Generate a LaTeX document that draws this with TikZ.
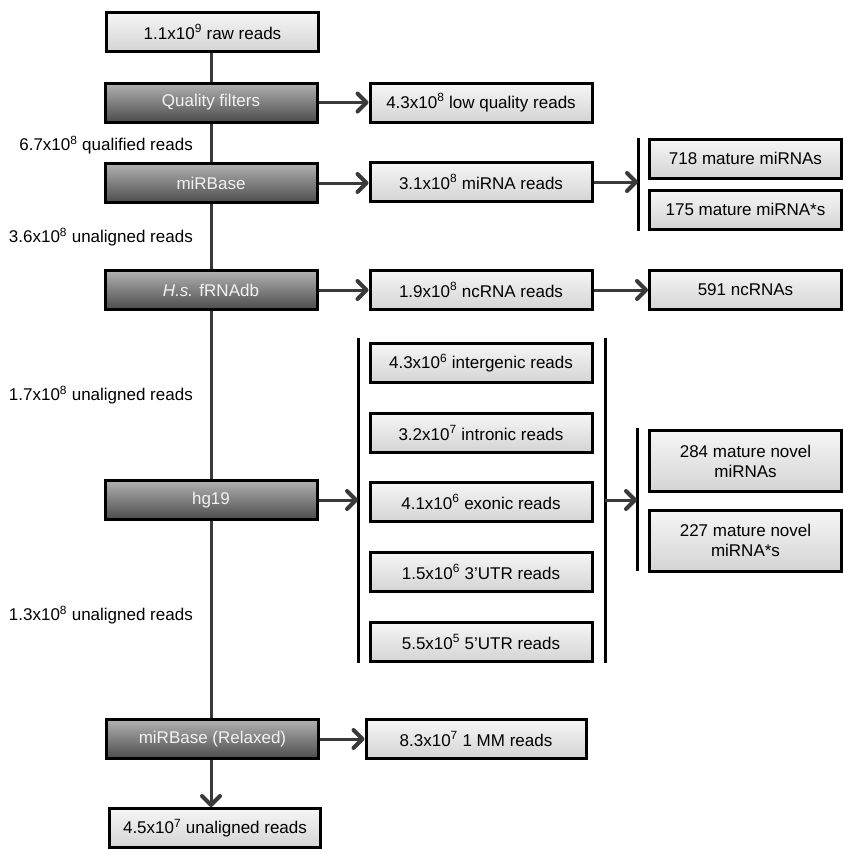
\documentclass[tikz,border=0pt]{standalone}
\usepackage{fontspec}
\setmainfont{Liberation Sans}
\usetikzlibrary{arrows.meta}
\definecolor{conncol}{HTML}{3A3A3A}
\definecolor{lgtop}{HTML}{F6F6F6}
\definecolor{lgbot}{HTML}{D4D4D4}
\definecolor{dktop}{HTML}{B2B2B2}
\definecolor{dkbot}{HTML}{4C4C4C}
\definecolor{dktext}{HTML}{F2F2F2}
\newcommand{\sups}[1]{\textsuperscript{#1}}
\begin{document}
\begin{tikzpicture}[x=1pt,y=-1pt,
  font=\fontsize{17}{20}\selectfont,
  box/.style={draw=black, line width=3pt, inner sep=0pt, minimum height=39pt, align=center},
  lightbox/.style={box, top color=lgtop, bottom color=lgbot, text=black},
  darkbox/.style={box, top color=dktop, bottom color=dkbot, text=dktext},
  leftbox/.style={darkbox, minimum width=212pt},
  midbox/.style={lightbox, minimum width=222pt},
  farbox/.style={lightbox, minimum width=192pt},
  conn/.style={draw=conncol, line width=3pt},
  arr/.style={conn, -{Straight Barb[length=9pt,width=18pt,line width=4pt,round]}},
  bar/.style={draw=black, line width=3pt},
  lab/.style={anchor=east, inner sep=0pt}]
\useasboundingbox[fill=white] (0,0) rectangle (845,849);

% left column
\node[lightbox, minimum width=212pt] (raw) at (212.5,32) {1.1x10\sups{9} raw reads};
\node[leftbox] (qf) at (211,102.5) {Quality filters};
\node[leftbox] (mirbase) at (211,183) {miRBase};
\node[leftbox] (frna) at (211,290) {\textit{H.s.} fRNAdb};
\node[leftbox] (hg) at (211,500) {hg19};
\node[leftbox] (relax) at (212.5,739) {miRBase (Relaxed)};
\node[lightbox, minimum width=211pt] (final) at (215,828) {4.5x10\sups{7} unaligned reads};

% labels
\node[lab] (l1) at (193,145) {6.7x10\sups{8} qualified reads};
\node[lab] (l2) at (193,237) {3.6x10\sups{8} unaligned reads};
\node[lab] (l3) at (193,395) {1.7x10\sups{8} unaligned reads};
\node[lab] (l4) at (193,615) {1.3x10\sups{8} unaligned reads};

% middle column
\node[midbox] (lowq) at (481,102.5) {4.3x10\sups{8} low quality reads};
\node[midbox] (mirna) at (481,182) {3.1x10\sups{8} miRNA reads};
\node[midbox] (ncrna) at (481,290) {1.9x10\sups{8} ncRNA reads};
\node[midbox] (inter) at (481,363) {4.3x10\sups{6} intergenic reads};
\node[midbox] (intron) at (481,433) {3.2x10\sups{7} intronic reads};
\node[midbox] (exon) at (481,502) {4.1x10\sups{6} exonic reads};
\node[midbox] (utr3) at (481,572) {1.5x10\sups{6} 3’UTR reads};
\node[midbox] (utr5) at (481,642) {5.5x10\sups{5} 5’UTR reads};
\node[lightbox, minimum width=220pt] (mm) at (476,739) {8.3x10\sups{7} 1 MM reads};

% far right column
\node[farbox] (mature) at (745.5,158.5) {718 mature miRNAs};
\node[farbox] (star) at (745.5,209.5) {175 mature miRNA*s};
\node[farbox] (nc) at (745.5,290) {591 ncRNAs};
\node[farbox, minimum height=61pt] (novel) at (745.5,461) {284 mature novel\\miRNAs};
\node[farbox, minimum height=61pt] (novelstar) at (745.5,540.5) {227 mature novel\\miRNA*s};

% bars
\coordinate (b1t) at (638,138); \coordinate (b1b) at (638,231);
\coordinate (b2lt) at (358,338); \coordinate (b2lb) at (358,663);
\coordinate (b2rt) at (605,338); \coordinate (b2rb) at (605,663);
\coordinate (b3t) at (637,428); \coordinate (b3b) at (637,571);
\draw[bar] (b1t) -- (b1b);
\draw[bar] (b2lt) -- (b2lb);
\draw[bar] (b2rt) -- (b2rb);
\draw[bar] (b3t) -- (b3b);

% main vertical flow
\draw[conn] (raw.south -| qf.north) -- (qf.north);
\draw[conn] (qf) -- (mirbase);
\draw[conn] (mirbase) -- (frna);
\draw[conn] (frna) -- (hg);
\draw[conn] (hg.south) -- (hg.south |- relax.north);
\draw[arr] (relax.south -| hg.south) -- (hg.south |- final.north);

% horizontal arrows
\draw[arr] (qf.east) -- (qf.east -| lowq.west);
\draw[arr] (mirbase.east) -- (mirbase.east -| mirna.west);
\draw[arr] (mirna.east) -- (mirna.east -| b1t);
\draw[arr] (frna.east) -- (frna.east -| ncrna.west);
\draw[arr] (ncrna.east) -- (ncrna.east -| nc.west);
\draw[arr] (hg.east) -- (hg.east -| b2lt);
\draw[arr] (hg.east -| b2rt) -- (hg.east -| b3t);
\draw[arr] (relax.east) -- (relax.east -| mm.west);
\end{tikzpicture}
\end{document}
